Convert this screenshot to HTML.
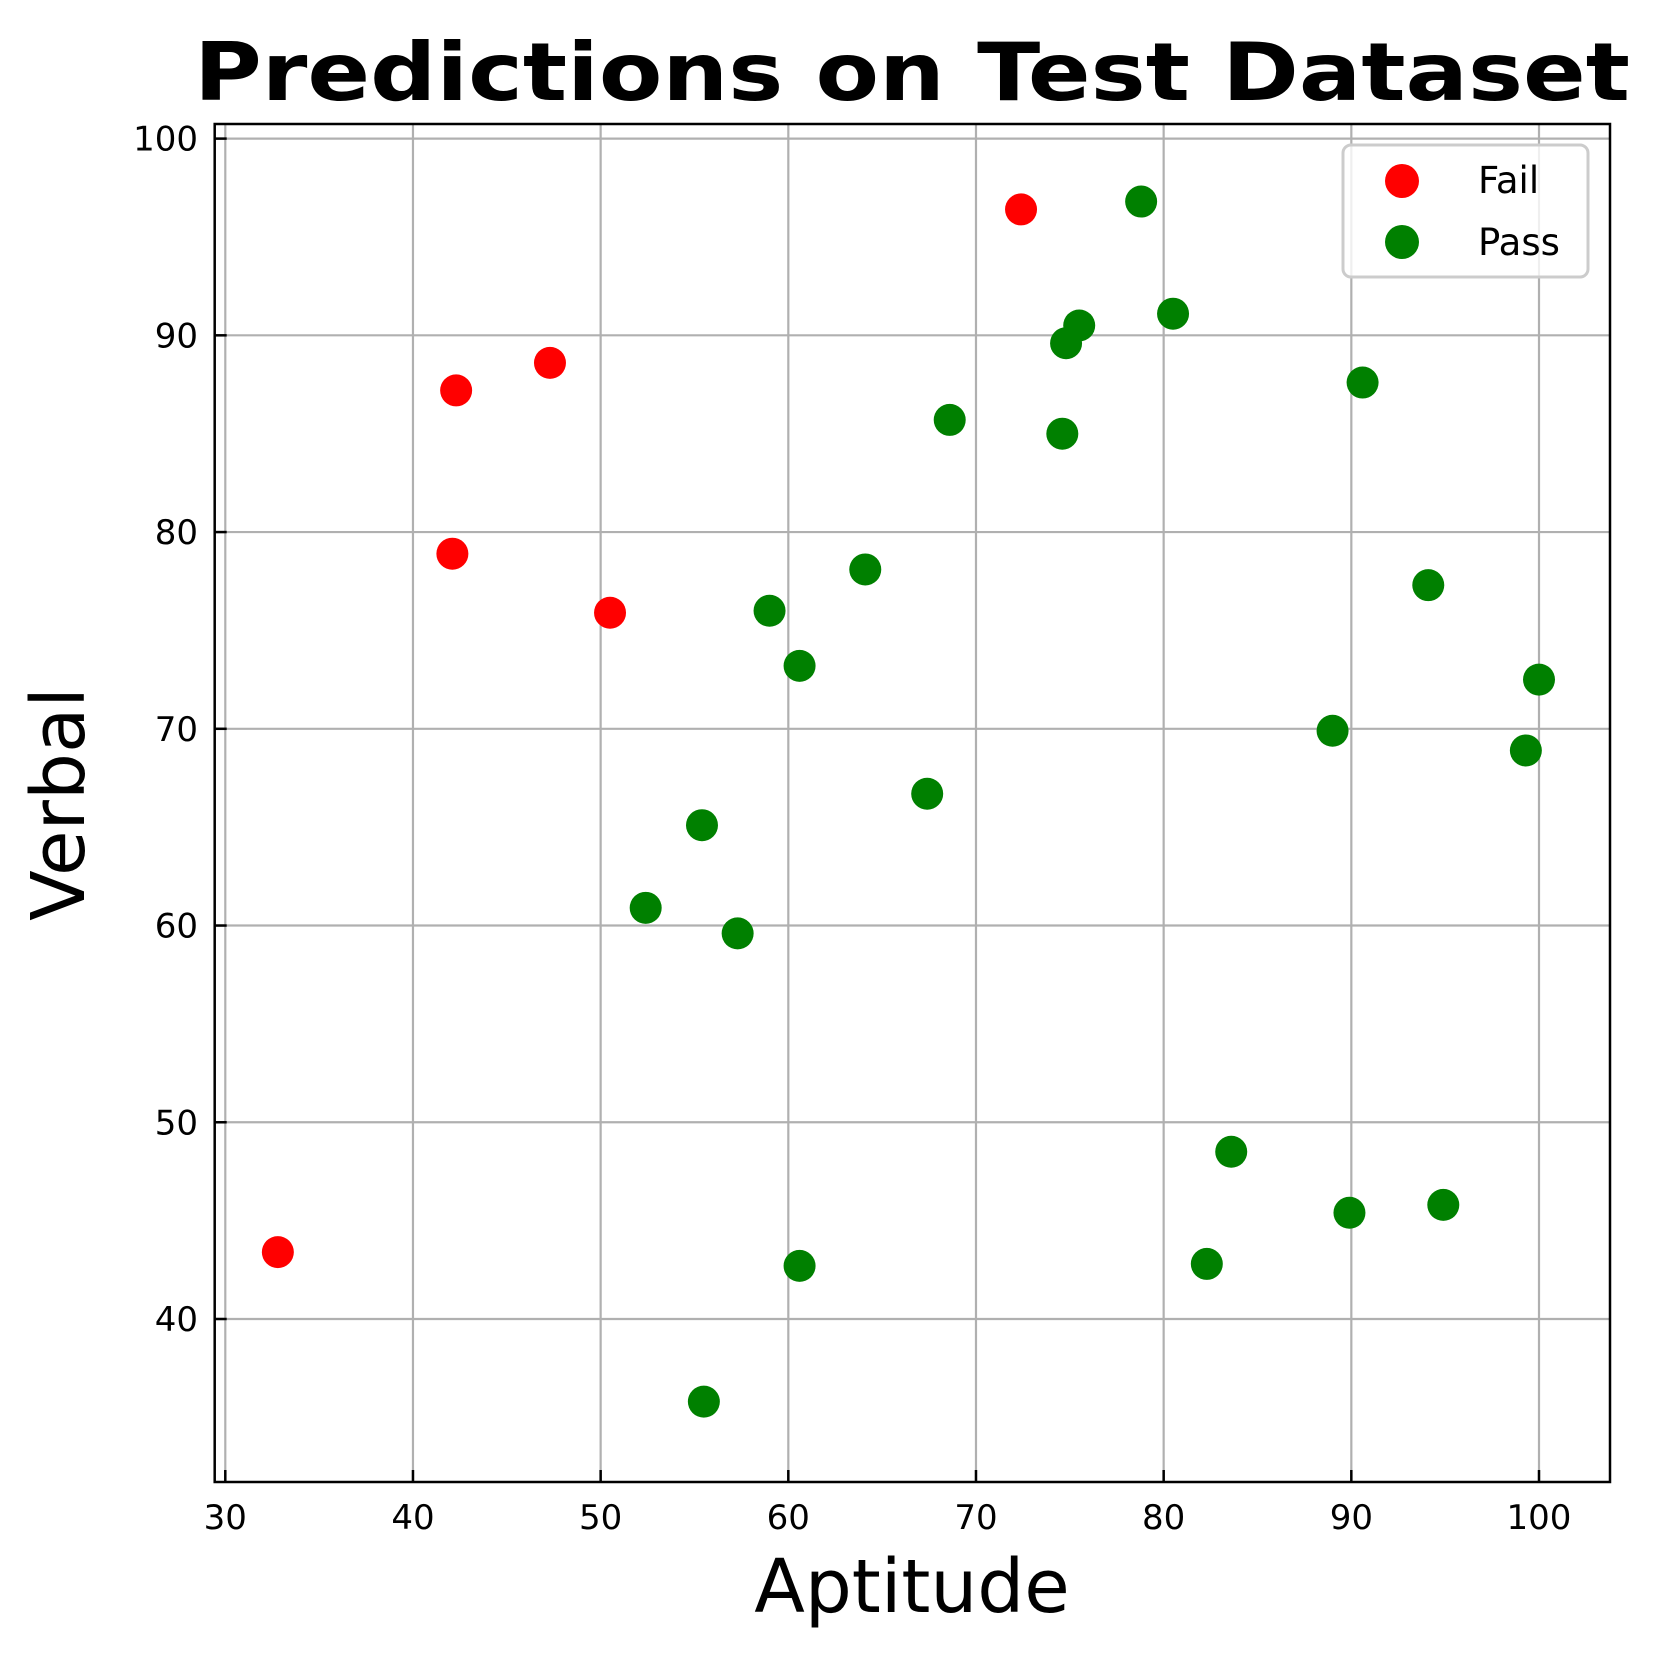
<!DOCTYPE html>
<html><head><meta charset="utf-8"><style>
html,body{margin:0;padding:0;background:#fff;}
svg{display:block;font-family:"DejaVu Sans","Liberation Sans",sans-serif;}
</style></head><body>
<svg id="chart" width="1659" height="1657" viewBox="0 0 1659 1657" xmlns="http://www.w3.org/2000/svg">
<rect width="1659" height="1657" fill="#fff"/>
<text x="912" y="100" text-anchor="middle" font-size="80" font-weight="bold" textLength="1436" lengthAdjust="spacingAndGlyphs">Predictions on Test Dataset</text>
<g id="grid"></g>
<g id="ticks"></g>
<g id="points"></g>
<rect x="214.7" y="124" width="1395.3" height="1358" fill="none" stroke="#000" stroke-width="2.5"/>
<text x="912" y="1612" text-anchor="middle" font-size="74">Aptitude</text>
<text transform="translate(84,804) rotate(-90)" text-anchor="middle" font-size="74">Verbal</text>
<g>
<rect x="1343" y="145" width="245" height="132" rx="8" fill="#fff" fill-opacity="0.8" stroke="#ccc" stroke-width="3"/>
<circle cx="1402" cy="181" r="17" fill="#ff0000"/>
<text x="1478" y="193" font-size="37">Fail</text>
<circle cx="1402" cy="242" r="17" fill="#008000"/>
<text x="1478" y="255" font-size="37">Pass</text>
</g>
</svg>
<script>
const xTicks = [30,40,50,60,70,80,90,100];
const yTicks = [40,50,60,70,80,90,100];
const failX = [32.8,42.3,47.3,42.1,50.5,72.4];
const failY = [43.4,87.2,88.6,78.9,75.9,96.4];
const passX = [78.8,80.5,75.5,74.8,90.6,68.6,74.6,64.1,59.0,60.6,94.1,100,89.0,99.3,67.4,55.4,52.4,57.3,83.6,94.9,89.9,82.3,60.6,55.5];
const passY = [96.8,91.1,90.5,89.6,87.6,85.7,85.0,78.1,76.0,73.2,77.3,72.5,69.9,68.9,66.7,65.1,60.9,59.6,48.5,45.8,45.4,42.8,42.7,35.8];

const L=214.7,R=1610,T=124,B=1482;
function sx(v){return 225.3+(v-30)*(1539-225.3)/70;}
function sy(v){return 1319+(v-40)*(138.6-1319)/60;}
const NS="http://www.w3.org/2000/svg";
function mk(tag,attrs,parent){const e=document.createElementNS(NS,tag);for(const k in attrs)e.setAttribute(k,attrs[k]);parent.appendChild(e);return e;}
const grid=document.getElementById('grid'),ticks=document.getElementById('ticks'),pts=document.getElementById('points');
xTicks.forEach(v=>{
  const x=sx(v);
  const g=mk('line',{x1:x,x2:x,y1:T,y2:B,stroke:'#b0b0b0','stroke-width':2.2},grid);
  
  
  mk('line',{x1:x,x2:x,y1:B,y2:B-12,stroke:'#000','stroke-width':2.5},ticks);
  const t=mk('text',{x:x,y:1529,'text-anchor':'middle','font-size':34},ticks);
  t.textContent=v;
  
  
});
yTicks.forEach(v=>{
  const y=sy(v);
  const g=mk('line',{x1:L,x2:R,y1:y,y2:y,stroke:'#b0b0b0','stroke-width':2.2},grid);
  
  
  mk('line',{x1:L,x2:L+12,y1:y,y2:y,stroke:'#000','stroke-width':2.5},ticks);
  const t=mk('text',{x:198,y:y+12,'text-anchor':'end','font-size':34},ticks);
  t.textContent=v;
  
  
});
failX.forEach((v,i)=>{
  const c=mk('circle',{cx:sx(v),cy:sy(failY[i]),r:16,fill:'#ff0000'},pts);
  
  
});
passX.forEach((v,i)=>{
  const c=mk('circle',{cx:sx(v),cy:sy(passY[i]),r:16,fill:'#008000'},pts);
  
  
});
</script>
</body></html>
